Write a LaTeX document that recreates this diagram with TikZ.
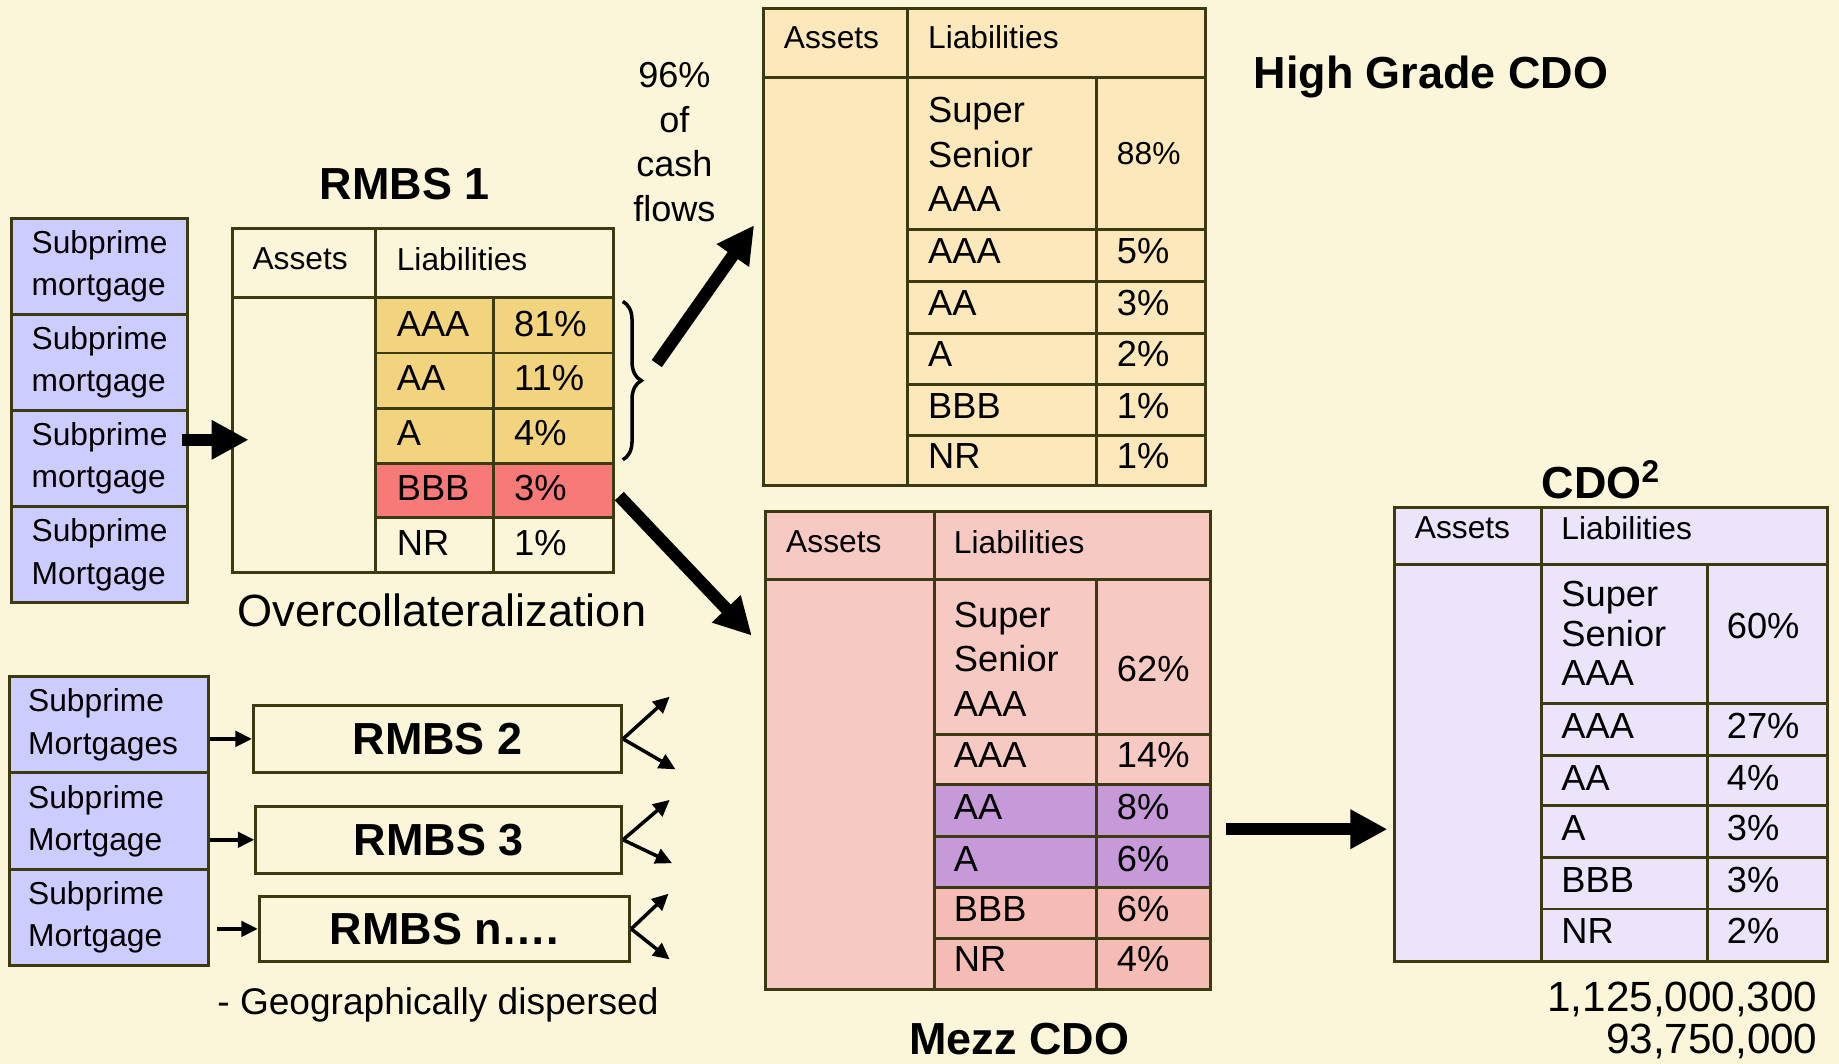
\documentclass[tikz,border=0pt]{standalone}
\usepackage{fontspec}
\setmainfont{Liberation Sans}
\usetikzlibrary{arrows.meta,decorations.pathreplacing}
\definecolor{paper}{RGB}{251,246,218}
\definecolor{rim}{RGB}{60,58,16}
\definecolor{mortgage}{RGB}{204,204,255}
\definecolor{gold}{RGB}{242,211,126}
\definecolor{junk}{RGB}{248,122,120}
\definecolor{peach}{RGB}{253,232,188}
\definecolor{rose}{RGB}{247,201,195}
\definecolor{rosedark}{RGB}{244,188,180}
\definecolor{orchid}{RGB}{198,154,216}
\definecolor{lilac}{RGB}{236,228,250}
\tikzset{
	tabline/.style={draw=rim, line width=1.4pt},
	headtxt/.style={anchor=west, inner sep=0pt, font=\fontsize{15.4}{20.5}\selectfont},
	celltxt/.style={anchor=west, inner sep=0pt, align=left, font=\fontsize{17.6}{21.6}\selectfont},
	stackcell/.style={draw=rim, line width=1.4pt, fill=mortgage, minimum height=1.64cm, align=left, font=\fontsize{15.4}{20.5}\selectfont},
	rmbsbox/.style={draw=rim, line width=1.4pt, minimum height=1.14cm, font=\fontsize{21.8}{26}\selectfont\bfseries},
	heading/.style={inner sep=0pt, font=\fontsize{21.8}{26}\selectfont\bfseries},
	bigflow/.style={line width=6pt, -{Triangle[length=18pt,width=18pt]}},
	feed/.style={line width=1.7pt, -{Triangle[length=8pt,width=7.5pt]}}
}
\begin{document}
\begin{tikzpicture}[x=0.02cm, y=-0.02cm]
	\fill[paper] (0,0) rectangle (1568,907);
	\useasboundingbox (0,0) rectangle (1568,907);

	\node[stackcell, text width=2.32cm, inner xsep=0.34cm] (m1) at (85,227) {Subprime\\mortgage};
	\node[stackcell, text width=2.32cm, inner xsep=0.34cm] (m2) at (85,309) {Subprime\\mortgage};
	\node[stackcell, text width=2.32cm, inner xsep=0.34cm] (m3) at (85,391) {Subprime\\mortgage};
	\node[stackcell, text width=2.32cm, inner xsep=0.34cm] (m4) at (85,473) {Subprime\\Mortgage};

	\node[heading] (rmbsTitle) at (345,157) {RMBS 1};
	\filldraw[tabline, fill=gold] (320,254) rectangle (523,395);
	\filldraw[tabline, fill=junk] (320,395) rectangle (523,441);
	\draw[tabline] (198,195) rectangle (523,488);
	\draw[tabline] (198,254) -- (523,254) (320,195) -- (320,488) (421,254) -- (421,488);
	\draw[tabline] (320,301) -- (523,301) (320,348) -- (523,348) (320,441) -- (523,441);
	\node[headtxt] (rmbsAssets) at (215,221) {Assets};
	\node[headtxt] (rmbsLiab) at (338,221) {Liabilities};
	\node[celltxt] (rmbsAAA) at (338,276) {AAA};
	\node[celltxt] (rmbsAA) at (338,322) {AA};
	\node[celltxt] (rmbsA) at (338,369) {A};
	\node[celltxt] (rmbsBBB) at (338,416) {BBB};
	\node[celltxt] (rmbsNR) at (338,463) {NR};
	\node[celltxt] (rmbsAAAp) at (438,276) {81\%};
	\node[celltxt] (rmbsAAp) at (438,322) {11\%};
	\node[celltxt] (rmbsAp) at (438,369) {4\%};
	\node[celltxt] (rmbsBBBp) at (438,416) {3\%};
	\node[celltxt] (rmbsNRp) at (438,463) {1\%};
	\node[anchor=west, inner sep=0pt, font=\fontsize{21.9}{26}\selectfont] (overcoll) at (202,520) {Overcollateralization};
	\draw[decorate, decoration={brace, amplitude=9pt}, line width=1.7pt] (531,257) -- (531,392);

	\coordinate (poolOut) at (155,375);
	\coordinate (rmbsIn) at (212,375);
	\draw[bigflow] (poolOut) -- (rmbsIn);

	\node[align=center, inner sep=0pt, font=\fontsize{17.5}{21.6}\selectfont] (cashNote) at (575,121) {96\%\\of\\cash\\flows};
	\coordinate (braceTip) at (560,310);
	\coordinate (hgIn) at (643,192);
	\draw[bigflow] (braceTip) -- (hgIn);

	\node[heading] (hgTitle) at (1220,66) {High Grade CDO};
	\filldraw[tabline, fill=peach] (651,7) rectangle (1028,414);
	\draw[tabline] (651,66) -- (1028,66) (774,7) -- (774,414) (935,66) -- (935,414);
	\draw[tabline] (774,196) -- (1028,196) (774,240) -- (1028,240) (774,284) -- (1028,284) (774,328) -- (1028,328) (774,371) -- (1028,371);
	\node[headtxt] (hgAssets) at (668,32) {Assets};
	\node[headtxt] (hgLiab) at (791,32) {Liabilities};
	\node[celltxt] (hgSS) at (791,132) {Super\\Senior\\AAA};
	\node[headtxt] (hgSSp) at (952,131) {88\%};
	\node[celltxt] (hgAAA) at (791,214) {AAA};
	\node[celltxt] (hgAA) at (791,258) {AA};
	\node[celltxt] (hgA) at (791,302) {A};
	\node[celltxt] (hgBBB) at (791,346) {BBB};
	\node[celltxt] (hgNR) at (791,389) {NR};
	\node[celltxt] (hgAAAp) at (952,214) {5\%};
	\node[celltxt] (hgAAp) at (952,258) {3\%};
	\node[celltxt] (hgAp) at (952,302) {2\%};
	\node[celltxt] (hgBBBp) at (952,346) {1\%};
	\node[celltxt] (hgNRp) at (952,389) {1\%};

	\coordinate (bbbOut) at (528,423);
	\coordinate (mzIn) at (641,542);
	\draw[bigflow] (bbbOut) -- (mzIn);

	\filldraw[tabline, fill=rose] (653,436) rectangle (1032,844);
	\fill[orchid] (797,669) rectangle (1032,757);
	\fill[rosedark] (797,757) rectangle (1032,844);
	\draw[tabline] (653,436) rectangle (1032,844);
	\draw[tabline] (653,494) -- (1032,494) (797,436) -- (797,844) (935,494) -- (935,844);
	\draw[tabline] (797,626) -- (1032,626) (797,669) -- (1032,669) (797,713) -- (1032,713) (797,757) -- (1032,757) (797,800) -- (1032,800);
	\node[headtxt] (mzAssets) at (670,462) {Assets};
	\node[headtxt] (mzLiab) at (813,462) {Liabilities};
	\node[celltxt] (mzSS) at (813,562) {Super\\Senior\\AAA};
	\node[celltxt] (mzSSp) at (952,570) {62\%};
	\node[celltxt] (mzAAA) at (813,644) {AAA};
	\node[celltxt] (mzAA) at (813,688) {AA};
	\node[celltxt] (mzA) at (813,732) {A};
	\node[celltxt] (mzBBB) at (813,775) {BBB};
	\node[celltxt] (mzNR) at (813,818) {NR};
	\node[celltxt] (mzAAAp) at (952,644) {14\%};
	\node[celltxt] (mzAAp) at (952,688) {8\%};
	\node[celltxt] (mzAp) at (952,732) {6\%};
	\node[celltxt] (mzBBBp) at (952,775) {6\%};
	\node[celltxt] (mzNRp) at (952,818) {4\%};
	\node[heading] (mzTitle) at (869,886) {Mezz CDO};

	\coordinate (mzOut) at (1045,707);
	\coordinate (sqIn) at (1183,707);
	\draw[bigflow] (mzOut) -- (sqIn);

	\node[heading] (sqTitle) at (1365,409) {CDO\textsuperscript{2}};
	\filldraw[tabline, fill=lilac] (1189,433) rectangle (1558,820);
	\draw[tabline] (1189,481) -- (1558,481) (1314,433) -- (1314,820) (1456,481) -- (1456,820);
	\draw[tabline] (1314,600) -- (1558,600) (1314,644) -- (1558,644) (1314,687) -- (1558,687) (1314,731) -- (1558,731) (1314,775) -- (1558,775);
	\node[headtxt] (sqAssets) at (1206,450) {Assets};
	\node[headtxt] (sqLiab) at (1331,450) {Liabilities};
	\node[celltxt, font=\fontsize{17.6}{19.4}\selectfont] (sqSS) at (1331,540) {Super\\Senior\\AAA};
	\node[celltxt] (sqSSp) at (1472,534) {60\%};
	\node[celltxt] (sqAAA) at (1331,619) {AAA};
	\node[celltxt] (sqAA) at (1331,663) {AA};
	\node[celltxt] (sqA) at (1331,706) {A};
	\node[celltxt] (sqBBB) at (1331,750) {BBB};
	\node[celltxt] (sqNR) at (1331,794) {NR};
	\node[celltxt] (sqAAAp) at (1472,619) {27\%};
	\node[celltxt] (sqAAp) at (1472,663) {4\%};
	\node[celltxt] (sqAp) at (1472,706) {3\%};
	\node[celltxt] (sqBBBp) at (1472,750) {3\%};
	\node[celltxt] (sqNRp) at (1472,794) {2\%};
	\node[anchor=east, inner sep=0pt, font=\fontsize{20.5}{20.5}\selectfont] (sqTotal) at (1550,852) {1,125,000,300};
	\node[anchor=east, inner sep=0pt, font=\fontsize{20.5}{20.5}\selectfont] (sqPart) at (1550,888) {93,750,000};

	\node[stackcell, text width=2.76cm, inner xsep=0.32cm] (s1) at (93,618) {Subprime\\Mortgages};
	\node[stackcell, text width=2.76cm, inner xsep=0.32cm] (s2) at (93,700) {Subprime\\Mortgage};
	\node[stackcell, text width=2.76cm, inner xsep=0.32cm] (s3) at (93,782) {Subprime\\Mortgage};

	\node[rmbsbox, minimum width=6.28cm] (r2) at (373,630) {RMBS 2};
	\node[rmbsbox, minimum width=6.24cm] (r3) at (374,716) {RMBS 3};
	\node[rmbsbox, minimum width=6.32cm, minimum height=1.12cm] (rn) at (379,792) {RMBS n….};
	\draw[feed] (s1.east |- r2.west) -- (r2.west);
	\draw[feed] (s2.east |- r3.west) -- (r3.west);
	\draw[feed] ([xshift=0.12cm]s3.east |- rn.west) -- (rn.west);

	\coordinate (r2up) at (571,594);
	\coordinate (r2dn) at (576,656);
	\coordinate (r3up) at (571,682);
	\coordinate (r3dn) at (573,736);
	\coordinate (rnup) at (570,762);
	\coordinate (rndn) at (571,818);
	\draw[feed] (r2.east) -- (r2up);
	\draw[feed] (r2.east) -- (r2dn);
	\draw[feed] (r3.east) -- (r3up);
	\draw[feed] (r3.east) -- (r3dn);
	\draw[feed] (rn.east) -- (rnup);
	\draw[feed] (rn.east) -- (rndn);

	\node[anchor=west, inner sep=0pt, font=\fontsize{18}{22}\selectfont] (geoNote) at (185,857) {- Geographically dispersed};
\end{tikzpicture}
\end{document}
